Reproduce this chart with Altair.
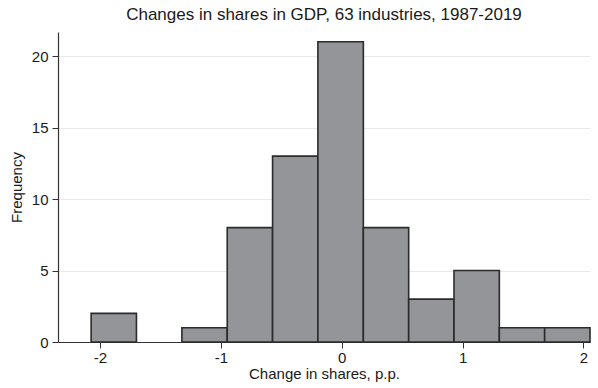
import altair as alt
import pandas as pd

# Histogram of changes in industry GDP shares (percentage points)
bin_start = [-2.073, -1.698, -1.322, -0.947, -0.572, -0.197, 0.179, 0.554, 0.929, 1.304, 1.679]
bin_end = [-1.698, -1.322, -0.947, -0.572, -0.197, 0.179, 0.554, 0.929, 1.304, 1.679, 2.054]
counts = [2, 0, 1, 8, 13, 21, 8, 3, 5, 1, 1]

x_ticks = [-2, -1, 0, 1, 2]
y_ticks = [0, 5, 10, 15, 20]

df = pd.DataFrame({"start": bin_start, "end": bin_end, "count": counts})
df = df[df["count"] > 0]

FONT = "Liberation Sans"

bars = alt.Chart(df).mark_rect(
    fill="#939598", stroke="#2b2b2b", strokeWidth=1.6
).encode(
    x=alt.X(
        "start:Q",
        scale=alt.Scale(domain=[-2.347, 2.054], nice=False, zero=False),
        axis=alt.Axis(
            values=x_ticks, title="Change in shares, p.p.", grid=False,
            tickSize=6, labelPadding=2, titlePadding=1,
            labelExpr="'' + datum.value",
        ),
    ),
    x2="end:Q",
    y=alt.Y(
        "count:Q",
        scale=alt.Scale(domain=[0, 21.68], nice=False),
        axis=alt.Axis(
            values=y_ticks, title="Frequency", grid=True,
            tickSize=6, labelPadding=4, titlePadding=7,
        ),
    ),
    y2=alt.datum(0),
)

chart = bars.properties(
    width=532,
    height=310,
    title=alt.TitleParams(
        "Changes in shares in GDP, 63 industries, 1987-2019",
        font=FONT, fontSize=17, fontWeight="normal", color="#1a1a1a", offset=8,
    ),
    padding={"left": 58, "top": 32, "right": 8, "bottom": 46},
    autosize=alt.AutoSizeParams(type="none"),
).configure_view(
    stroke=None
).configure_axis(
    labelFont=FONT, titleFont=FONT, labelFontSize=15, titleFontSize=15,
    labelColor="#1a1a1a", titleColor="#1a1a1a", titleFontWeight="normal",
    domainColor="#333333", tickColor="#333333", domainWidth=1.2, tickWidth=1,
    gridColor="#e9e9e9", gridWidth=1,
)

chart.save("out.html", embed_options={"renderer": "svg", "actions": False})
